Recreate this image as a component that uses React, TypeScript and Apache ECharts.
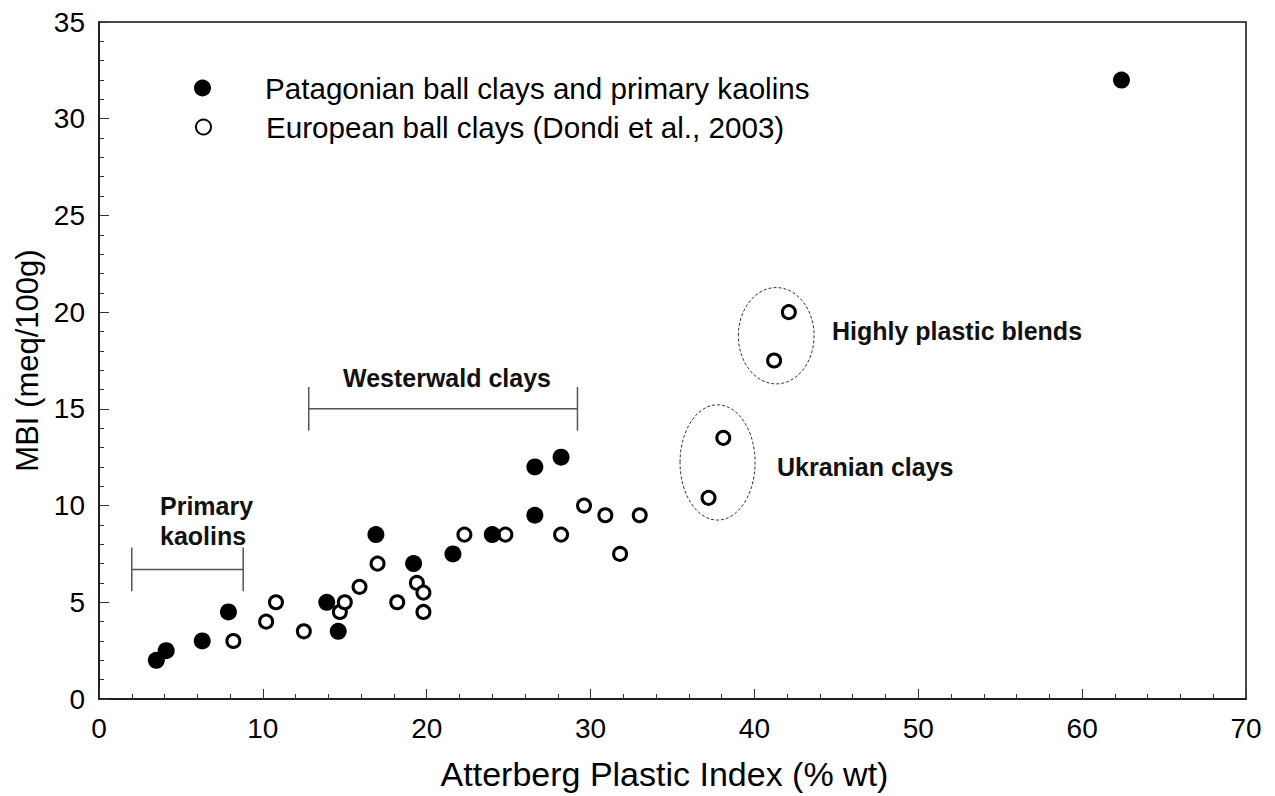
import { useEffect, useRef } from "react";
import * as echarts from "echarts";

// Atterberg plastic index (% wt) vs methylene blue index (meq/100g)
const patagonian: [number, number][] = [
  [3.5, 2.0], [4.1, 2.5], [6.3, 3.0], [7.9, 4.5], [13.9, 5.0], [14.6, 3.5],
  [16.9, 8.5], [19.2, 7.0], [21.6, 7.5], [24.0, 8.5], [26.6, 12.0], [26.6, 9.5],
  [28.2, 12.5], [62.4, 32.0],
];

const european: [number, number][] = [
  [8.2, 3.0], [10.2, 4.0], [10.8, 5.0], [12.5, 3.5], [14.7, 4.5], [15.0, 5.0],
  [15.9, 5.8], [17.0, 7.0], [18.2, 5.0], [19.4, 6.0], [19.8, 5.5], [19.8, 4.5],
  [22.3, 8.5], [24.8, 8.5], [28.2, 8.5], [29.6, 10.0], [30.9, 9.5], [31.8, 7.5],
  [33.0, 9.5], [37.2, 10.4], [38.1, 13.5], [41.2, 17.5], [42.1, 20.0],
];

// Range brackets: [xFrom, xTo, y, half height of end ticks]
const brackets: [number, number, number, number][] = [
  [2.0, 8.8, 6.7, 1.13],
  [12.8, 29.2, 15.0, 1.13],
];

// Dashed group outlines: [centre x, centre y, radius x, radius y]
const groups: [number, number, number, number][] = [
  [41.33, 18.78, 2.31, 2.49],
  [37.75, 12.23, 2.29, 2.98],
];

const xTicks = { min: 0, max: 70, interval: 10 };
const yTicks = { min: 0, max: 35, interval: 5 };

const nameP = "Patagonian ball clays and primary kaolins";
const nameE = "European ball clays (Dondi et al., 2003)";

const FONT = "'Liberation Sans', Arial, sans-serif";

export default function App() {
  const ref = useRef<HTMLDivElement>(null);

  useEffect(() => {
    if (!ref.current) return;
    const chart = echarts.init(ref.current, undefined, { renderer: "svg" });

    const axisCommon = {
      type: "value" as const,
      splitLine: { show: false },
      axisLine: { show: true, lineStyle: { color: "#111", width: 1.5 } },
      axisTick: { show: true, inside: true, length: 10, lineStyle: { color: "#333", width: 1 } },
      minorTick: { show: true, splitNumber: 5, length: 5, lineStyle: { color: "#333", width: 1 } },
      axisLabel: { color: "#000", fontSize: 28, fontFamily: FONT },
      nameTextStyle: { color: "#000", fontFamily: FONT },
    };

    const annot = (text: string, left: number, top: number) => ({
      type: "text",
      left,
      top,
      style: {
        text,
        fill: "#111",
        font: `bold 25px ${FONT}`,
      },
    });

    chart.setOption({
      animation: false,
      backgroundColor: "#fff",
      grid: {
        left: 99,
        top: 22,
        right: 29,
        bottom: 96,
        show: true,
        borderColor: "#111",
        borderWidth: 1.5,
        backgroundColor: "transparent",
      },
      xAxis: {
        ...axisCommon,
        ...xTicks,
        name: "Atterberg Plastic Index (% wt)",
        nameLocation: "middle",
        nameGap: 58,
        nameTextStyle: { ...axisCommon.nameTextStyle, fontSize: 34, padding: [0, 16, 0, 0] },
        axisLabel: { ...axisCommon.axisLabel, margin: 15 },
      },
      yAxis: {
        ...axisCommon,
        ...yTicks,
        name: "MBI (meq/100g)",
        nameLocation: "middle",
        nameGap: 56,
        nameTextStyle: { ...axisCommon.nameTextStyle, fontSize: 31 },
        axisLabel: { ...axisCommon.axisLabel, margin: 14 },
      },
      legend: [
        {
          data: [nameP],
          left: 194,
          top: 73,
          padding: 0,
          itemWidth: 17,
          itemHeight: 17,
          textStyle: { fontSize: 29.6, fontFamily: FONT, color: "#000", lineHeight: 30, padding: [0, 0, 0, 49] },
        },
        {
          data: [nameE],
          left: 195,
          top: 112,
          padding: 0,
          itemWidth: 15,
          itemHeight: 15,
          textStyle: { fontSize: 29.6, fontFamily: FONT, color: "#000", lineHeight: 30, padding: [0, 0, 0, 50] },
        },
      ],
      series: [
        {
          type: "custom",
          silent: true,
          data: brackets,
          renderItem: (_params: any, api: any) => {
            const x0 = api.value(0);
            const x1 = api.value(1);
            const y = api.value(2);
            const h = api.value(3);
            const style = { stroke: "#555", lineWidth: 1.5 };
            const a = api.coord([x0, y]);
            const b = api.coord([x1, y]);
            const aTop = api.coord([x0, y + h]);
            const aBot = api.coord([x0, y - h]);
            const bTop = api.coord([x1, y + h]);
            const bBot = api.coord([x1, y - h]);
            return {
              type: "group",
              children: [
                { type: "line", shape: { x1: a[0], y1: a[1], x2: b[0], y2: b[1] }, style },
                { type: "line", shape: { x1: aTop[0], y1: aTop[1], x2: aBot[0], y2: aBot[1] }, style },
                { type: "line", shape: { x1: bTop[0], y1: bTop[1], x2: bBot[0], y2: bBot[1] }, style },
              ],
            };
          },
        },
        {
          type: "custom",
          silent: true,
          data: groups,
          renderItem: (_params: any, api: any) => {
            const c = api.coord([api.value(0), api.value(1)]);
            const s = api.size([api.value(2), api.value(3)]);
            return {
              type: "ellipse",
              shape: { cx: c[0], cy: c[1], rx: s[0], ry: s[1] },
              style: { fill: "none", stroke: "#333", lineWidth: 1, lineDash: [3, 2] },
            };
          },
        },
        {
          name: nameE,
          type: "scatter",
          data: european,
          symbol: "circle",
          symbolSize: 13,
          itemStyle: { color: "#fff", borderColor: "#000", borderWidth: 3, opacity: 1 },
        },
        {
          name: nameP,
          type: "scatter",
          data: patagonian,
          symbol: "circle",
          symbolSize: 17,
          itemStyle: { color: "#000", opacity: 1 },
        },
      ],
      graphic: [
        annot("Primary", 160, 493),
        annot("kaolins", 160, 523),
        annot("Westerwald clays", 343, 365),
        annot("Highly plastic blends", 832, 318),
        annot("Ukranian clays", 777, 454),
      ],
    });

    return () => chart.dispose();
  }, []);

  return (
    <div
      ref={ref}
      style={{ position: "fixed", left: 0, top: 0, width: 1275, height: 796 }}
    />
  );
}
